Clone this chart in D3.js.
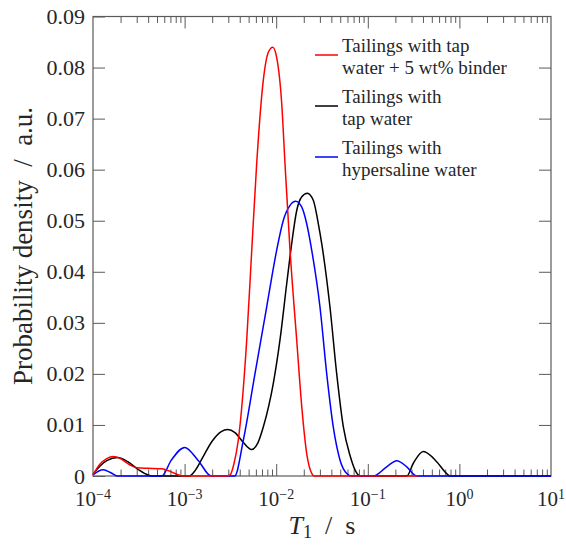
<!DOCTYPE html>
<html>
<head>
<meta charset="utf-8">
<script src="https://cdn.jsdelivr.net/npm/d3@7"></script>
<style>
  body { margin: 0; background: #fff; }
  svg text { font-family: "Liberation Serif", "Times New Roman", serif; fill: #262626; }
</style>
</head>
<body>
<script>
// log10(T1 / s) and probability density
const binderLogT = [-4.0, -3.93, -3.85, -3.78, -3.70, -3.60, -3.52, -3.40, -3.25, -3.17, -3.08, -3.02,
  -2.55, -2.504, -2.46, -2.414, -2.322, -2.267, -2.213, -2.141, -2.086, -2.038, -1.995, -1.940,
  -1.904, -1.849, -1.776, -1.721, -1.667, -1.612, -1.59, -0.45];
const binderPD = [0.0002, 0.0022, 0.0034, 0.0038, 0.0034, 0.0022, 0.0016, 0.0015, 0.0014, 0.0010, 0.0003, 0,
  0, 0.0002, 0.0025, 0.007, 0.0266, 0.0442, 0.0612, 0.0775, 0.083, 0.084, 0.082, 0.073,
  0.0612, 0.0442, 0.0266, 0.0136, 0.0044, 0.0005, 0, 0];

const tapLogT = [-4.0, -3.92, -3.85, -3.73, -3.62, -3.50, -3.40, -3.36, -2.95, -2.88, -2.80, -2.70,
  -2.60, -2.53, -2.45, -2.36, -2.27, -2.20, -2.141, -2.032, -1.959, -1.885, -1.831, -1.776,
  -1.721, -1.660, -1.595, -1.540, -1.503, -1.413, -1.340, -1.267, -1.194, -1.140, -1.085,
  -0.575, -0.503, -0.394, -0.248, -0.157, -0.103, 1.0];
const tapPD = [0.0003, 0.002, 0.003, 0.0036, 0.0028, 0.0012, 0.0002, 0, 0, 0.0012, 0.0037, 0.0068,
  0.0087, 0.0091, 0.0085, 0.0066, 0.0052, 0.0065, 0.0096, 0.0181, 0.0266, 0.0377, 0.0455, 0.052,
  0.0547, 0.0554, 0.054, 0.0494, 0.0455, 0.0331, 0.0201, 0.0096, 0.004, 0.0012, 0,
  0, 0.0025, 0.0048, 0.0028, 0.0008, 0, 0];

const salineLogT = [-4.0, -3.89, -3.80, -3.73, -3.25, -3.145, -2.999, -2.854, -2.709, -2.453,
  -2.359, -2.231, -2.104, -1.995, -1.922, -1.849, -1.787, -1.722, -1.667, -1.612, -1.522,
  -1.449, -1.377, -1.303, -1.230, -1.176, -0.940, -0.794, -0.684, -0.575, -0.466, 1.0];
const salinePD = [0.0002, 0.0012, 0.0006, 0, 0, 0.0031, 0.0056, 0.0031, 0, 0,
  0.007, 0.0201, 0.0331, 0.0442, 0.0501, 0.053, 0.0538, 0.0527, 0.0494, 0.0442, 0.0331,
  0.0201, 0.0096, 0.0031, 0.0005, 0, 0, 0.0018, 0.0030, 0.0018, 0, 0];

const seriesNames = [["Tailings with tap", "water + 5 wt% binder"], ["Tailings with", "tap water"], ["Tailings with", "hypersaline water"]];
const seriesColors = ["#ff0000", "#000000", "#0000ff"];
const yTicks = [0, 0.01, 0.02, 0.03, 0.04, 0.05, 0.06, 0.07, 0.08, 0.09];
const xDecades = [-4, -3, -2, -1, 0, 1];

const width = 566, height = 545;
const x = d3.scaleLog().domain([1e-4, 10]).range([93, 551]);
const y = d3.scaleLinear().domain([0, 0.09]).range([476, 16.5]);

const svg = d3.select("body").append("svg")
  .attr("width", width)
  .attr("height", height);

const axisColor = "#5a5a5a";
const minors = [];
xDecades.slice(0, -1).forEach(d => {
  for (let k = 2; k <= 9; k++) minors.push(k * Math.pow(10, d));
});
const majors = xDecades.map(d => Math.pow(10, d));

// ticks (inward, all four sides)
const drawAxis = (axis, ty) => {
  const g = svg.append("g").attr("transform", `translate(0,${ty})`).call(axis);
  g.select(".domain").remove();
  g.selectAll(".tick line").attr("stroke", axisColor);
  return g;
};
drawAxis(d3.axisBottom(x).tickValues(majors.slice(1, -1)).tickSize(-12).tickFormat(""), 476);
drawAxis(d3.axisBottom(x).tickValues(minors).tickSize(-6.5).tickFormat(""), 476);
drawAxis(d3.axisTop(x).tickValues(majors.slice(1, -1)).tickSize(-12).tickFormat(""), 16.5);
drawAxis(d3.axisTop(x).tickValues(minors).tickSize(-6.5).tickFormat(""), 16.5);

const yl = svg.append("g").attr("transform", "translate(93,0)")
  .call(d3.axisLeft(y).tickValues(yTicks).tickSize(-12).tickPadding(8)
    .tickFormat(d => d === 0 ? "0" : d3.format(".2f")(d)));
yl.select(".domain").remove();
yl.selectAll(".tick line").attr("stroke", axisColor);
yl.selectAll(".tick text").attr("font-size", 22).attr("fill", "#262626");

const yr = svg.append("g").attr("transform", "translate(551,0)")
  .call(d3.axisRight(y).tickValues(yTicks.slice(1, -1)).tickSize(-12).tickFormat(""));
yr.select(".domain").remove();
yr.selectAll(".tick line").attr("stroke", axisColor);

// frame
svg.append("rect")
  .attr("x", 93).attr("y", 16.5)
  .attr("width", 551 - 93).attr("height", 476 - 16.5)
  .attr("fill", "none").attr("stroke", axisColor).attr("stroke-width", 1.2);

// x tick labels 10^n
const xl = svg.append("g").selectAll("text").data(xDecades).join("text")
  .attr("x", d => x(Math.pow(10, d)))
  .attr("y", 506)
  .attr("text-anchor", "middle")
  .attr("font-size", 21);
xl.append("tspan").text("10");
xl.append("tspan").attr("dy", -7).attr("font-size", 14)
  .text(d => d < 0 ? "\u2212" + Math.abs(d) : String(d));

// curves
const line = d3.line()
  .x(d => x(Math.pow(10, d[0])))
  .y(d => y(d[1]))
  .curve(d3.curveMonotoneX);

const series = [
  d3.zip(binderLogT, binderPD),
  d3.zip(tapLogT, tapPD),
  d3.zip(salineLogT, salinePD)
];
[1, 2, 0].forEach(i => {
  svg.append("path")
    .datum(series[i])
    .attr("fill", "none")
    .attr("stroke", seriesColors[i])
    .attr("stroke-width", 1.5)
    .attr("d", line);
});

// legend
const leg = svg.append("g").selectAll("g").data(seriesNames).join("g")
  .attr("transform", (d, i) => `translate(315,${52 + i * 51})`);
leg.append("line")
  .attr("x1", 0).attr("x2", 23).attr("y1", 3).attr("y2", 3)
  .attr("stroke", (d, i) => seriesColors[i]).attr("stroke-width", 1.5);
leg.append("text").attr("x", 27).attr("y", 0).attr("font-size", 19).text(d => d[0]);
leg.append("text").attr("x", 27).attr("y", 22).attr("font-size", 19).text(d => d[1]);

// axis titles
const xt = svg.append("text")
  .attr("x", 322).attr("y", 534)
  .attr("text-anchor", "middle")
  .attr("font-size", 26);
xt.append("tspan").attr("font-style", "italic").text("T");
xt.append("tspan").attr("font-size", 18).attr("dy", 4).text("1");
xt.append("tspan").attr("dy", -4).text("\u2002/\u2002s");

svg.append("text")
  .attr("transform", "translate(32,246) rotate(-90)")
  .attr("text-anchor", "middle")
  .attr("font-size", 27)
  .text("Probability density\u2002/\u2002a.u.");
</script>
</body>
</html>
